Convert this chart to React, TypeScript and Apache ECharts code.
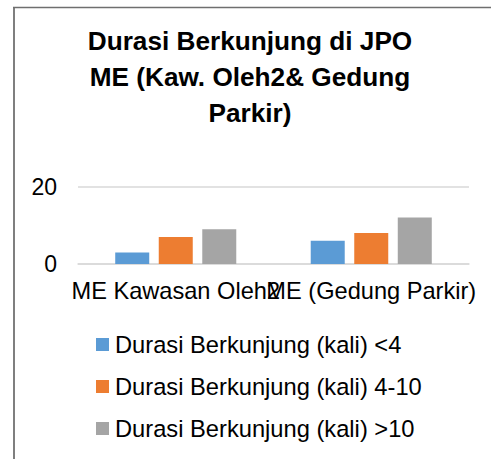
import React, { useEffect, useRef } from "react";
import * as echarts from "echarts";

const categories = ["ME Kawasan Oleh2", "ME (Gedung Parkir)"];
const seriesNames = [
  "Durasi Berkunjung (kali) <4",
  "Durasi Berkunjung (kali) 4-10",
  "Durasi Berkunjung (kali) >10",
];
const valuesLt4 = [3, 6];
const values4to10 = [7, 8];
const valuesGt10 = [9, 12];
const colors = ["#5b9bd5", "#ed7d31", "#a5a5a5"];
const yTicks = { min: 0, max: 20, interval: 20 };
const titleText = "Durasi Berkunjung di JPO\nME (Kaw. Oleh2& Gedung\nParkir)";

const FONT = "'Liberation Sans', Arial, sans-serif";

export default function App() {
  const ref = useRef<HTMLDivElement>(null);
  useEffect(() => {
    if (!ref.current) return;
    const chart = echarts.init(ref.current, undefined, { renderer: "svg" });
    const data = [valuesLt4, values4to10, valuesGt10];
    chart.setOption({
      animation: false,
      backgroundColor: "#ffffff",
      textStyle: { fontFamily: FONT },
      title: {
        text: titleText,
        left: 250,
        top: 23,
        padding: 0,
        textAlign: "center",
        textStyle: {
          fontFamily: FONT,
          fontSize: 26.2,
          fontWeight: "bold",
          color: "#000000",
          lineHeight: 36,
        },
      },
      legend: {
        orient: "vertical",
        left: 96,
        top: 330.5,
        padding: 0,
        itemWidth: 13,
        itemHeight: 13,
        itemGap: 14,
        icon: "rect",
        textStyle: {
          fontFamily: FONT,
          fontSize: 23.7,
          color: "#000000",
          lineHeight: 28,
          padding: [0, 0, 0, 1],
        },
        data: seriesNames,
      },
      grid: {
        left: 78,
        width: 391,
        top: 186.7,
        height: 77.3,
        containLabel: false,
      },
      xAxis: {
        type: "category",
        data: categories,
        axisLine: { show: true, lineStyle: { color: "#d9d9d9", width: 1.5 } },
        axisTick: { show: false },
        axisLabel: {
          interval: 0,
          hideOverlap: false,
          margin: 15,
          fontFamily: FONT,
          fontSize: 23.6,
          color: "#000000",
        },
      },
      yAxis: {
        type: "value",
        min: yTicks.min,
        max: yTicks.max,
        interval: yTicks.interval,
        axisLine: { show: false },
        axisTick: { show: false },
        splitLine: { lineStyle: { color: "#d9d9d9", width: 1.5 } },
        axisLabel: {
          margin: 21,
          fontFamily: FONT,
          fontSize: 23,
          color: "#000000",
        },
      },
      series: seriesNames.map((name, i) => ({
        name,
        type: "bar",
        data: data[i],
        barWidth: 34,
        barGap: "28%",
        itemStyle: { color: colors[i] },
      })),
      graphic: [
        {
          type: "line",
          shape: { x1: 14, y1: 7.5, x2: 14, y2: 459 },
          style: { stroke: "#7f7f7f", lineWidth: 2 },
          silent: true,
        },
        {
          type: "line",
          shape: { x1: 13, y1: 7.5, x2: 491, y2: 7.5 },
          style: { stroke: "#6f6f6f", lineWidth: 1.5 },
          silent: true,
        },
      ],
    });
    return () => chart.dispose();
  }, []);
  return (
    <div
      ref={ref}
      style={{ position: "fixed", left: 0, top: 0, width: 491, height: 459 }}
    />
  );
}
